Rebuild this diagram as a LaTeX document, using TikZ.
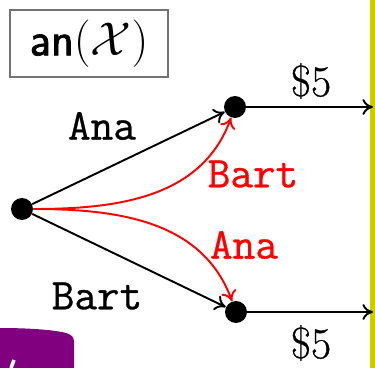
\documentclass[tikz,border=0pt]{standalone}
\usepackage{fix-cm}
\usepackage{fontspec}
\newfontfamily\ttheavy{Latin Modern Mono}[FakeBold=0.7]
\newfontfamily\rmheavy{Latin Modern Roman}[FakeBold=0.6]
\newfontfamily\sfheavy{Latin Modern Sans}[FakeBold=1.4]
\usetikzlibrary{positioning}
\usetikzlibrary{arrows.meta}
\definecolor{yellowbar}{RGB}{204,204,0}
\definecolor{purplebar}{RGB}{128,0,128}

\begin{document}
\begin{tikzpicture}[
        x=0.02cm, y=-0.02cm,
        dot/.style={circle, fill=black, inner sep=0pt, minimum size=0.44cm},
        lbl/.style={font=\fontsize{25}{30}\selectfont\ttheavy},
        pay/.style={font=\fontsize{25}{30}\selectfont\rmheavy},
        titlebox/.style={draw=black!55, line width=1.1pt, minimum width=3.16cm,
                    minimum height=1.34cm, font=\fontsize{27}{32}\selectfont},
        arrow/.style={-{To[length=6pt,width=9pt]}, line width=1.1pt},
        redarrow/.style={arrow, draw=red}
    ]
        \useasboundingbox (0,0) rectangle (375,368);
        \clip (0,0) rectangle (375,368);

        % slide furniture
        \fill[yellowbar] (370,0) rectangle (375,368);
        \fill[purplebar] (0,368) -- (0,328) .. controls (30,328) and (55,330) .. (66,333)
            .. controls (72,335) and (74,337) .. (74,342) -- (74,368) -- cycle;
        \draw[white, line width=2pt] (11,368) -- (14,360);

        \node[titlebox] (title) at (89,43.5) {{\sfheavy an}$(\mathcal{X})$};

        % tree
        \node[dot] (root) at (22,209) {};
        \node[dot] (up) at (235,107) {};
        \node[dot] (down) at (236,312) {};
        \coordinate (upend) at (373,107);
        \coordinate (downend) at (373,312);

        \draw[arrow] (root) -- (up);
        \draw[arrow] (root) -- (down);
        \draw[arrow] (up) -- (upend);
        \draw[arrow] (down) -- (downend);
        \draw[redarrow] (root) to[out=0, in=250] (up);
        \draw[redarrow] (root) to[out=0, in=110] (down);

        \node[lbl] (anaup) at (102,126) {Ana};
        \node[lbl] (bartdown) at (97,296) {Bart};
        \node[lbl, text=red] (bartred) at (253,174) {Bart};
        \node[lbl, text=red] (anared) at (244,245) {Ana};
        \node[pay] (payup) at (311,81) {\$5};
        \node[pay] (paydown) at (311,343) {\$5};
    \end{tikzpicture}
\end{document}
